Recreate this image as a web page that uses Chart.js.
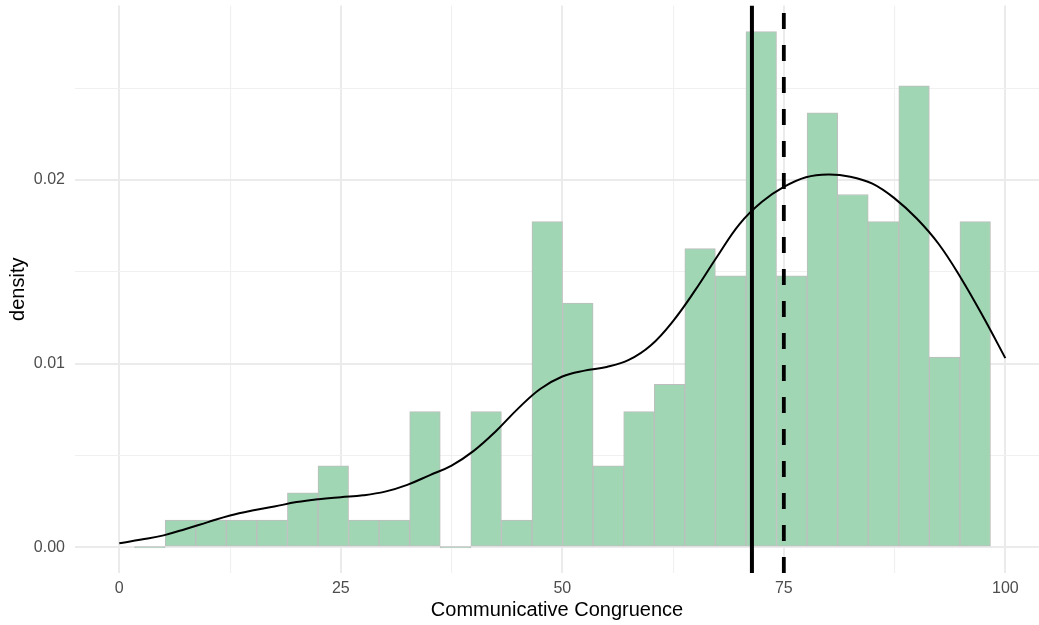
<!DOCTYPE html>
<html>
<head>
<meta charset="utf-8">
<script src="https://cdn.jsdelivr.net/npm/chart.js@4.4.1/dist/chart.umd.min.js"></script>
<style>
  html, body { margin: 0; padding: 0; background: #ffffff; overflow: hidden; }
  #wrap { position: relative; width: 1039px; height: 625px; }
</style>
</head>
<body>
<div id="wrap"><canvas id="c"></canvas></div>
<script>
// ---- data ----
const binCenters = [3.45, 6.9, 10.35, 13.8, 17.25, 20.7, 24.15, 27.6, 31.05, 34.5,
  37.95, 41.4, 44.85, 48.3, 51.75, 55.2, 58.65, 62.1, 65.55, 69.0,
  72.45, 75.9, 79.35, 82.8, 86.25, 89.7, 93.15, 96.6];
const binDensity = [0, 0.00148, 0.00148, 0.00148, 0.00148, 0.00296, 0.00443, 0.00148, 0.00148, 0.00739,
  0, 0.00739, 0.00148, 0.01773, 0.0133, 0.00443, 0.00739, 0.00887, 0.01626, 0.01478,
  0.02808, 0.01478, 0.02365, 0.01921, 0.01773, 0.02513, 0.01035, 0.01773];

const curveX = [0, 2.5, 5, 7.5, 10, 12.5, 15, 17.5, 20, 22.5, 25, 27.5, 30, 32.5, 35, 37.5, 40,
  42.5, 45, 47.5, 50, 52.5, 55, 57.5, 60, 62.5, 65, 67.5, 70, 72.5, 75, 77.5, 80, 82.5,
  85, 87.5, 90, 92.5, 95, 97.5, 100];
const curveY = [0.00022, 0.00042, 0.00065, 0.00100, 0.00137, 0.00173, 0.00200, 0.00222, 0.00246,
  0.00262, 0.00273, 0.00283, 0.00303, 0.00340, 0.00392, 0.00445, 0.00525, 0.00632, 0.00755,
  0.00862, 0.00930, 0.00962, 0.00982, 0.01020, 0.01100, 0.01232, 0.01400, 0.01585, 0.01760,
  0.01880, 0.01962, 0.02015, 0.02030, 0.02018, 0.01980, 0.01900, 0.01790, 0.01650, 0.01465,
  0.01255, 0.01030];

const meanValue = 71.4;     // solid line
const medianValue = 75.0;   // dashed line

const xTickValues = [0, 12.5, 25, 37.5, 50, 62.5, 75, 87.5, 100];
const xTickLabels = ['0', '', '25', '', '50', '', '75', '', '100'];
const yTickValues = [0, 0.005, 0.01, 0.015, 0.02, 0.025];
const yTickLabels = ['0.00', '', '0.01', '', '0.02', ''];

const xMin = -5, xMax = 103.8;
const yMin = -0.0014, yMax = 0.0295;

// ---- chart ----
const FONT = 'Liberation Sans, Arial, Helvetica, sans-serif';
const gridW = (labels) => (ctx) => (labels[ctx.index] !== '' ? 2 : 1.1);
const gridC = (labels) => (ctx) => (labels[ctx.index] !== '' ? '#EBEBEB' : '#F0F0F0');

new Chart(document.getElementById('c'), {
  type: 'bar',
  data: {
    datasets: [
      {
        type: 'line',
        label: 'median',
        data: [{x: medianValue, y: yMin}, {x: medianValue, y: yMax}],
        borderColor: '#000000',
        borderWidth: 3.8,
        borderDash: [16, 16],
        borderCapStyle: 'butt',
        pointRadius: 0,
        order: 0
      },
      {
        type: 'line',
        label: 'mean',
        data: [{x: meanValue, y: yMin}, {x: meanValue, y: yMax}],
        borderColor: '#000000',
        borderWidth: 4,
        borderCapStyle: 'butt',
        pointRadius: 0,
        order: 1
      },
      {
        type: 'line',
        label: 'density curve',
        data: curveX.map((x, i) => ({x: x, y: curveY[i]})),
        borderColor: '#000000',
        borderWidth: 2,
        pointRadius: 0,
        tension: 0.4,
        order: 2
      },
      {
        type: 'bar',
        label: 'density',
        data: binCenters.map((x, i) => ({x: x, y: binDensity[i]})),
        backgroundColor: '#A1D6B4',
        borderColor: '#BEBEBE',
        borderWidth: 1,
        borderSkipped: false,
        barPercentage: 1,
        categoryPercentage: 1,
        minBarLength: 1.5,
        order: 3
      }
    ]
  },
  options: {
    responsive: true,
    maintainAspectRatio: false,
    animation: false,
    layout: { padding: { top: 5.5, left: 0, right: 0, bottom: 0 } },
    plugins: { legend: { display: false }, tooltip: { enabled: false } },
    scales: {
      x: {
        type: 'linear',
        min: xMin, max: xMax,
        offset: false,
        afterBuildTicks: (s) => { s.ticks = xTickValues.map(v => ({value: v})); },
        afterFit: (s) => { s.height = 52; s.paddingLeft = 0; s.paddingRight = 0; },
        grid: { offset: false, drawTicks: false, lineWidth: gridW(xTickLabels), color: gridC(xTickLabels) },
        border: { display: false },
        ticks: {
          autoSkip: false, maxRotation: 0, padding: 6,
          color: '#4D4D4D', font: { family: FONT, size: 16 },
          callback: (v, i) => xTickLabels[i]
        },
        title: {
          display: true, text: 'Communicative Congruence', color: '#000000',
          font: { family: FONT, size: 20 }, padding: { top: 0, bottom: 3 }
        }
      },
      y: {
        type: 'linear',
        min: yMin, max: yMax,
        afterBuildTicks: (s) => { s.ticks = yTickValues.map(v => ({value: v})); },
        afterFit: (s) => { s.width = 75; s.paddingTop = 0; s.paddingBottom = 0; },
        grid: { drawTicks: false, lineWidth: gridW(yTickLabels), color: gridC(yTickLabels) },
        border: { display: false },
        ticks: {
          autoSkip: false, padding: 10,
          color: '#4D4D4D', font: { family: FONT, size: 16 },
          callback: (v, i) => yTickLabels[i]
        },
        title: {
          display: true, text: 'density', color: '#000000',
          font: { family: FONT, size: 20 }, padding: { top: 6, bottom: 0 }
        }
      }
    }
  }
});
</script>
</body>
</html>
